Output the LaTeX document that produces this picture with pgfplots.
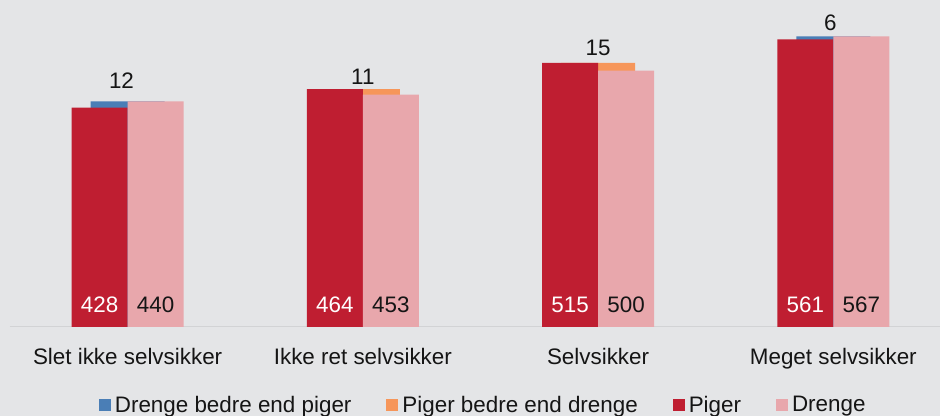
\documentclass[border=0pt]{standalone}
\usepackage{pgfplots}
\pgfplotsset{compat=1.18}
\usepackage{fontspec}
\setmainfont{Liberation Sans}
\definecolor{bg}{HTML}{E4E5E7}
\definecolor{cblue}{HTML}{4A7EB6}
\definecolor{corange}{HTML}{F6965A}
\definecolor{cpiger}{HTML}{BF1E31}
\definecolor{cdrenge}{HTML}{E8A7AC}
\definecolor{linecol}{HTML}{D2D3D5}
\definecolor{txt}{HTML}{151515}
\newcommand{\lblfont}{\fontsize{22.5}{26}\selectfont}
\begin{document}
\begin{tikzpicture}
\fill[bg] (0bp,0bp) rectangle (941bp,416bp);
\begin{axis}[
  at={(10bp,89bp)}, anchor=south west,
  scale only axis, width=931bp, height=327bp,
  xmin=-0.5, xmax=3.455, ymin=0, ymax=638,
  axis x line*=bottom, axis y line=none,
  axis line style={-},
  x axis line style={draw=linecol, line width=1.3bp},
  xtick={0,1,2,3},
  xticklabels={Slet ikke selvsikker, Ikke ret selvsikker, Selvsikker, Meget selvsikker},
  major tick length=0pt,
  xticklabel style={font=\lblfont, text=txt, anchor=base, yshift=-38bp},
  clip=false,
  legend columns=4,
  legend style={at={(0.5097,0)}, anchor=center, yshift=-78bp, draw=none, fill=none,
    font=\lblfont, text=txt,
    nodes={inner xsep=4bp, inner ysep=0pt},
    /tikz/every even column/.append style={column sep=31bp}},
]
\addplot[ybar, bar width=74bp, bar shift=0bp, fill=cblue, draw=none,
  legend image code/.code={\fill[cblue] (0bp,-6bp) rectangle (12bp,6bp);}]
  coordinates {(0,440) (3,567)};
\addlegendentry{Drenge bedre end piger}
\addplot[ybar, bar width=74bp, bar shift=0bp, fill=corange, draw=none,
  legend image code/.code={\fill[corange] (0bp,-6bp) rectangle (12bp,6bp);}]
  coordinates {(1,464) (2,515)};
\addlegendentry{Piger bedre end drenge}
\addplot[ybar, bar width=56bp, bar shift=-28bp, fill=cpiger, draw=none,
  legend image code/.code={\fill[cpiger] (0bp,-6bp) rectangle (12bp,6bp);}]
  coordinates {(0,428) (1,464) (2,515) (3,561)};
\addlegendentry{Piger}
\addplot[ybar, bar width=56bp, bar shift=28bp, fill=cdrenge, draw=none,
  legend image code/.code={\fill[cdrenge] (0bp,-6bp) rectangle (12bp,6bp);}]
  coordinates {(0,440) (1,453) (2,500) (3,567)};
\addlegendentry{Drenge}
% value labels inside Piger bars
\addplot[draw=none, mark=none, forget plot, nodes near coords, point meta=explicit symbolic,
  nodes near coords style={anchor=center, xshift=-28bp, text=white, font=\lblfont}]
  table[meta=l] {
x y l
0 43.5 428
1 43.5 464
2 43.5 515
3 43.5 561
};
% value labels inside Drenge bars
\addplot[draw=none, mark=none, forget plot, nodes near coords, point meta=explicit symbolic,
  nodes near coords style={anchor=center, xshift=28bp, text=txt, font=\lblfont}]
  table[meta=l] {
x y l
0 43.5 440
1 43.5 453
2 43.5 500
3 43.5 567
};
% difference labels
\addplot[draw=none, mark=none, forget plot, nodes near coords, point meta=explicit symbolic,
  nodes near coords style={anchor=center, text=txt, font=\lblfont}]
  table[meta=l] {
x y l
-0.026 481 12
1 488 11
2 544 15
2.987 594 6
};
\end{axis}
\end{tikzpicture}
\end{document}
